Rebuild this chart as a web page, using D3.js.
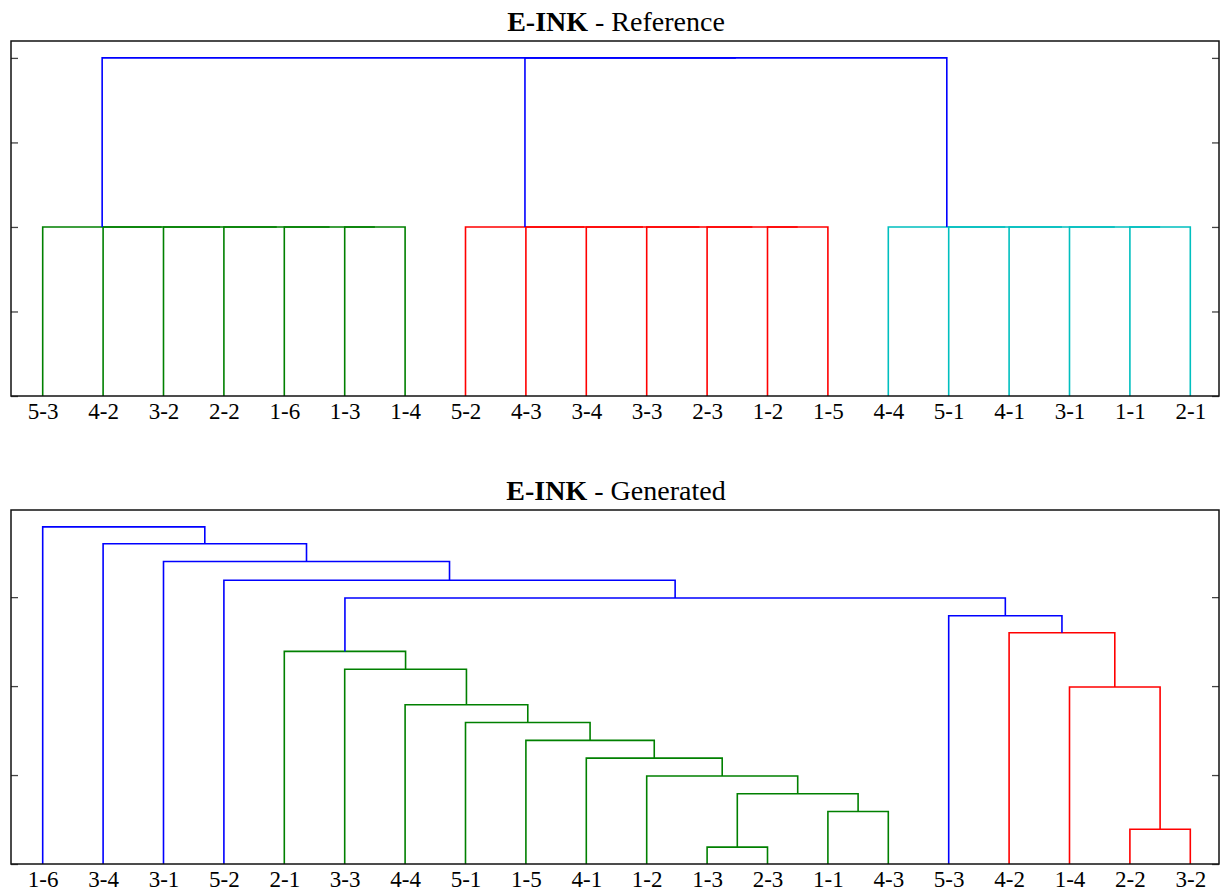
<!DOCTYPE html>
<html>
<head>
<meta charset="utf-8">
<script src="https://cdn.jsdelivr.net/npm/d3@7"></script>
<style>
  body { margin: 0; background: #fff; }
  svg { display: block; }
  text, tspan { font-family: "Liberation Serif", "DejaVu Serif", serif; fill: #000; }
</style>
</head>
<body>
<div id="chart"></div>
<script>
// Reference tree: leaves in drawn order, merges as [left, right] node ids
// (leaves are 0..n-1, merge k becomes node n+k), plus merge heights and colour groups
const refLeaves = ["5-3", "4-2", "3-2", "2-2", "1-6", "1-3", "1-4",
                   "5-2", "4-3", "3-4", "3-3", "2-3", "1-2", "1-5",
                   "4-4", "5-1", "4-1", "3-1", "1-1", "2-1"];
const refMerges = [[5, 6], [4, 20], [3, 21], [2, 22], [1, 23], [0, 24],
                   [12, 13], [11, 26], [10, 27], [9, 28], [8, 29], [7, 30],
                   [18, 19], [17, 32], [16, 33], [15, 34], [14, 35],
                   [31, 36], [25, 37]];
const refHeights = [2, 2, 2, 2, 2, 2,
                    2, 2, 2, 2, 2, 2,
                    2, 2, 2, 2, 2,
                    4, 4];
const refGroups = ["g", "g", "g", "g", "g", "g",
                   "r", "r", "r", "r", "r", "r",
                   "c", "c", "c", "c", "c",
                   "b", "b"];

// Generated tree
const genLeaves = ["1-6", "3-4", "3-1", "5-2", "2-1", "3-3", "4-4", "5-1", "1-5", "4-1",
                   "1-2", "1-3", "2-3", "1-1", "4-3", "5-3", "4-2", "1-4", "2-2", "3-2"];
const genMerges = [[11, 12], [18, 19], [13, 14], [20, 22], [10, 23], [9, 24], [8, 25],
                   [7, 26], [6, 27], [17, 21], [5, 28], [4, 30], [16, 29], [15, 32],
                   [31, 33], [3, 34], [2, 35], [1, 36], [0, 37]];
const genHeights = [0.19, 0.39, 0.59, 0.79, 0.99, 1.19, 1.39,
                    1.59, 1.79, 1.99, 2.19, 2.39, 2.60, 2.79,
                    2.99, 3.19, 3.40, 3.60, 3.79];
const genGroups = ["g", "r", "g", "g", "g", "g", "g",
                   "g", "g", "r", "g", "g", "r", "b",
                   "b", "b", "b", "b", "b"];

const yTicks = [0, 1, 2, 3, 4];

const W = 1220, H = 892;
const FONT = "'Liberation Serif', 'DejaVu Serif', serif";
const color = d3.scaleOrdinal()
    .domain(["g", "r", "c", "b"])
    .range(["#008000", "#ff0000", "#00bfbf", "#0000ff"]);

const svg = d3.select("#chart").append("svg")
    .attr("width", W)
    .attr("height", H);

function drawPanel(box, subtitle, leaves, merges, heights, groups) {
    const n = leaves.length;
    // leaves sit a touch right of the frame's edge in the original
    const x = d3.scaleLinear().domain([0, n * 10]).range([box.left + 1.5, box.right + 1.5]);
    const y = d3.scaleLinear().domain([0, d3.max(heights) * 1.05]).range([box.bottom, box.top]);

    // node positions: leaves at 5, 15, 25 ... ; merges at the middle of their children
    const nodeX = leaves.map((d, i) => i * 10 + 5);
    const nodeH = leaves.map(() => 0);
    merges.forEach(([a, b], k) => {
        nodeX.push((nodeX[a] + nodeX[b]) / 2);
        nodeH.push(heights[k]);
    });

    const g = svg.append("g");

    // title
    const title = g.append("text")
        .attr("x", (box.left + box.right) / 2 + 1)
        .attr("y", box.top - 10)
        .attr("text-anchor", "middle")
        .style("font-family", FONT)
        .style("font-size", "28px");
    title.append("tspan")
        .style("font-family", FONT)
        .style("font-weight", "bold")
        .text("E-INK");
    title.append("tspan")
        .style("font-family", FONT)
        .style("font-weight", "normal")
        .text(" - " + subtitle);

    // links
    g.selectAll("path.link")
        .data(merges)
        .join("path")
        .attr("class", "link")
        .attr("fill", "none")
        .attr("stroke", (d, k) => color(groups[k]))
        .attr("stroke-width", 1.6)
        .attr("d", ([a, b], k) =>
            `M${x(nodeX[a])},${y(nodeH[a])}V${y(heights[k])}H${x(nodeX[b])}V${y(nodeH[b])}`);

    // y ticks on both sides, pointing inward, no labels
    const ticks = yTicks.filter(t => t <= y.domain()[1]);
    g.append("g")
        .attr("transform", `translate(${box.left},0)`)
        .call(d3.axisLeft(y).tickValues(ticks).tickSize(-7).tickFormat(""))
        .call(a => a.select(".domain").remove())
        .selectAll("line").attr("stroke", "#444").attr("stroke-width", 1.3);
    g.append("g")
        .attr("transform", `translate(${box.right},0)`)
        .call(d3.axisRight(y).tickValues(ticks).tickSize(-7).tickFormat(""))
        .call(a => a.select(".domain").remove())
        .selectAll("line").attr("stroke", "#444").attr("stroke-width", 1.3);

    // leaf labels
    const xAxis = g.append("g")
        .attr("transform", `translate(0,${box.bottom})`)
        .call(d3.axisBottom(x)
            .tickValues(leaves.map((d, i) => i * 10 + 5))
            .tickSize(0)
            .tickFormat((d, i) => leaves[i]));
    xAxis.select(".domain").remove();
    xAxis.selectAll("text")
        .attr("y", 23)
        .attr("dy", null)
        .style("font-family", FONT)
        .style("font-size", "23px")
        .attr("fill", "#000");

    // frame
    g.append("rect")
        .attr("x", box.left)
        .attr("y", box.top)
        .attr("width", box.right - box.left)
        .attr("height", box.bottom - box.top)
        .attr("fill", "none")
        .attr("stroke", "#111")
        .attr("stroke-width", 1.5);
}

drawPanel({left: 11, right: 1219, top: 41, bottom: 396}, "Reference",
          refLeaves, refMerges, refHeights, refGroups);
drawPanel({left: 11, right: 1219, top: 510, bottom: 864}, "Generated",
          genLeaves, genMerges, genHeights, genGroups);
</script>
</body>
</html>
